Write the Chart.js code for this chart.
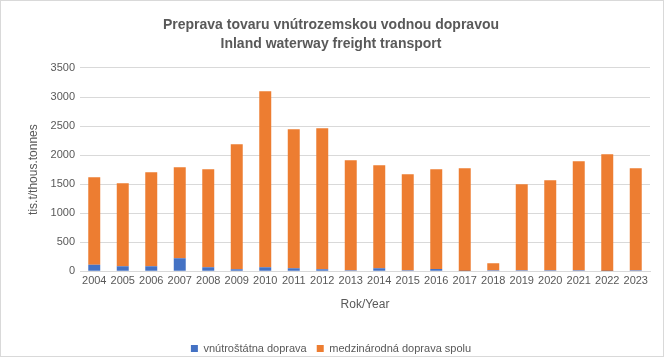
<!DOCTYPE html>
<html>
<head>
<meta charset="utf-8">
<script src="https://cdn.jsdelivr.net/npm/chart.js@4/dist/chart.umd.min.js"></script>
<style>
html,body{margin:0;padding:0;background:#fff;}
#wrap{width:664px;height:357px;position:relative;}
</style>
</head>
<body>
<div id="wrap"><canvas id="c" width="664" height="357"></canvas></div>
<script>
const years = ['2004','2005','2006','2007','2008','2009','2010','2011','2012','2013','2014','2015','2016','2017','2018','2019','2020','2021','2022','2023'];
const domestic = [109, 86, 86, 224, 69, 34, 69, 52, 34, 17, 52, 17, 40, 2, 17, 17, 17, 17, 2, 17];
const international = [1509, 1429, 1618, 1566, 1687, 2152, 3029, 2392, 2427, 1894, 1772, 1653, 1716, 1771, 121, 1480, 1549, 1876, 2012, 1756];
const yTicks = [0, 500, 1000, 1500, 2000, 2500, 3000, 3500];

const txt = '#595959';
const FONT = "'Liberation Sans', Arial, sans-serif";

const frame = {
  id: 'frame',
  afterDraw(chart) {
    const ctx = chart.ctx;
    ctx.save();
    ctx.strokeStyle = '#d9d9d9';
    ctx.lineWidth = 1;
    ctx.strokeRect(0.5, 0.5, chart.width - 1, chart.height - 1);
    ctx.restore();
  }
};

new Chart(document.getElementById('c'), {
  type: 'bar',
  data: {
    labels: years,
    datasets: [
      { label: 'vnútroštátna doprava', data: domestic, backgroundColor: '#4472C4', barPercentage: 0.42, categoryPercentage: 1 },
      { label: 'medzinárodná doprava spolu', data: international, backgroundColor: '#ED7D31', barPercentage: 0.42, categoryPercentage: 1 }
    ]
  },
  options: {
    responsive: false,
    animation: false,
    layout: { padding: { left: 12, right: 14, top: 8, bottom: -7 } },
    plugins: {
      title: {
        display: true,
        text: ['Preprava tovaru vnútrozemskou vodnou dopravou', 'Inland waterway freight transport'],
        color: txt,
        font: { family: FONT, size: 14, weight: 'bold', lineHeight: 1.357 },
        padding: { top: 8, bottom: 14 }
      },
      legend: {
        position: 'bottom',
        labels: {
          color: txt,
          font: { family: FONT, size: 11 },
          boxWidth: 7,
          boxHeight: 7,
          padding: 10
        }
      },
      tooltip: { enabled: false }
    },
    scales: {
      x: {
        stacked: true,
        grid: { display: false, drawTicks: false },
        border: { color: '#d9d9d9' },
        ticks: { color: txt, font: { family: FONT, size: 11 }, maxRotation: 0, autoSkip: false, padding: 3 },
        title: { display: true, text: 'Rok/Year', color: txt, font: { family: FONT, size: 12 }, padding: { top: 6.6, bottom: 21.6 } }
      },
      y: {
        stacked: true,
        min: 0,
        max: 3500,
        afterBuildTicks(scale) { scale.ticks = yTicks.map(v => ({ value: v })); },
        grid: { color: '#d9d9d9', drawTicks: false },
        border: { display: false },
        ticks: { color: txt, font: { family: FONT, size: 11 }, padding: 5, callback: v => String(v) },
        title: { display: true, text: 'tis.t/thous.tonnes', color: txt, font: { family: FONT, size: 12 }, padding: { top: 14, bottom: 0 } },
        afterFit(scale) { scale.width = 68; }
      }
    }
  },
  plugins: [frame]
});
</script>
</body>
</html>
